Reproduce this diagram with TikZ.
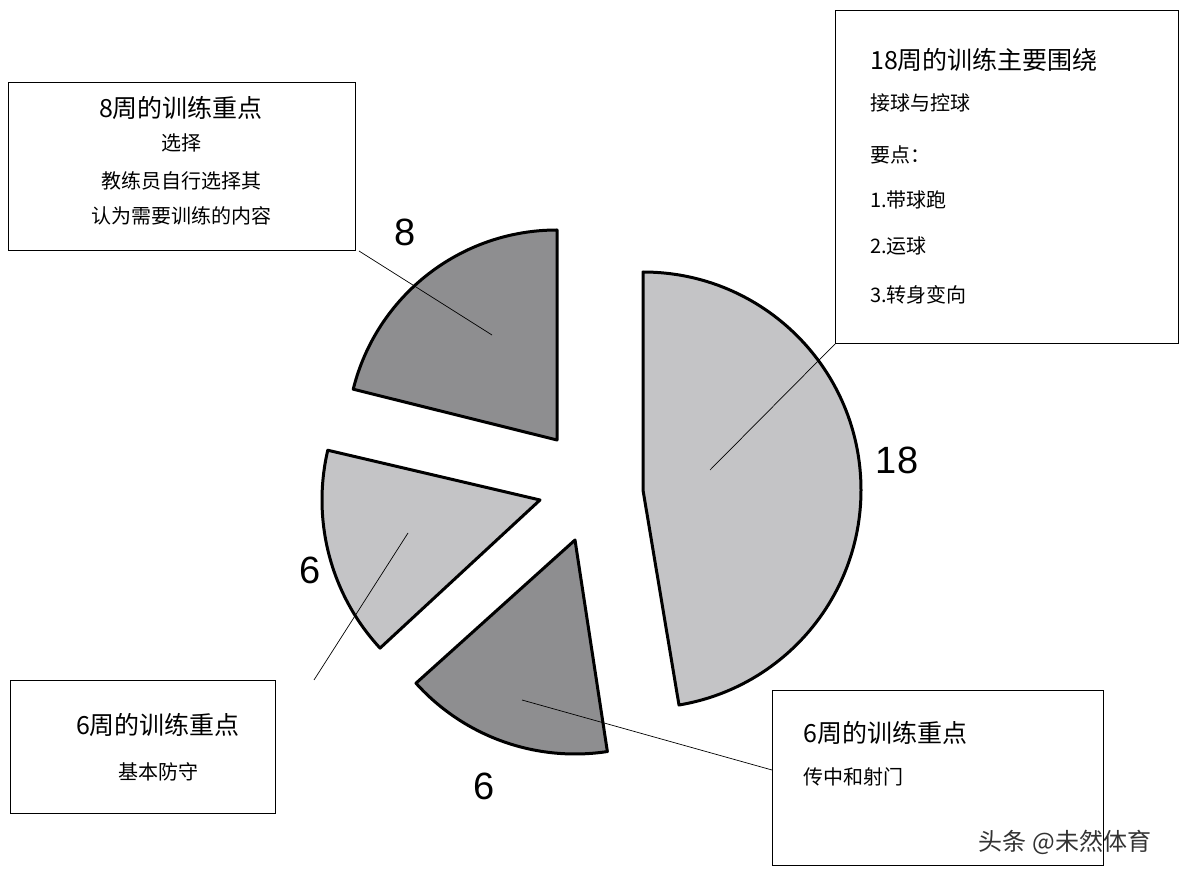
\documentclass[tikz,border=0pt]{standalone}
\usepackage{fontspec}
\setmainfont{Liberation Serif}
\newfontfamily\cjk{Noto Sans CJK SC}
\newfontfamily\numf{Liberation Sans}
\begin{document}
\begin{tikzpicture}[x=1pt,y=-1pt,
 slice/.style={draw=black,line width=3pt,line join=round},
 box/.style={draw=black,line width=1pt,fill=white},
 lead/.style={draw=black,line width=0.7pt},
 big/.style={font=\cjk\fontsize{25}{25}\selectfont,inner sep=0pt},
 small/.style={font=\cjk\fontsize{20}{20}\selectfont,inner sep=0pt},
 num/.style={font=\numf\fontsize{38}{38}\selectfont,inner sep=0pt}]
\useasboundingbox[fill=white] (0,0) rectangle (1200,882);
\definecolor{dk}{HTML}{8E8E90}\definecolor{lt}{HTML}{C4C4C6}
% slices (angles measured with y flipped: use negative angles)
\draw[slice,fill=lt] (643,490) -- ++(-90:218) arc[start angle=-90,end angle=80.5,radius=218] -- cycle;
\draw[slice,fill=dk] (557,440) -- ++(-90:210) arc[start angle=-90,end angle=-166,radius=210] -- cycle;
\draw[slice,fill=lt] (540,500) -- ++(-166.8:218) arc[start angle=-166.8,end angle=-222.8,radius=218] -- cycle;
\draw[slice,fill=dk] (575,540) -- ++(-222:214) arc[start angle=-222,end angle=-278.7,radius=214] -- cycle;
% boxes
\node[box,minimum width=347,minimum height=168,anchor=north west] (b8) at (8,82) {};
\node[box,minimum width=343,minimum height=333,anchor=north west] (b18) at (835,10) {};
\node[box,minimum width=265,minimum height=133,anchor=north west] (b6a) at (10,680) {};
\node[box,minimum width=331,minimum height=175,anchor=north west] (b6b) at (772,690) {};
% leader endpoints
\coordinate (p8) at (492,335);\coordinate (p18) at (710,470);
\coordinate (p6a) at (408,533);\coordinate (p6b) at (522,700);
\draw[lead] (b8.south east) ++(3,0) -- (p8);
\draw[lead] (b18.south west) -- (p18);
\draw[lead] (b6a.north east) ++(38,0) -- (p6a);
\draw[lead] (b6b.west) ++(0,-8) -- (p6b);
% texts
\node[big] (t1) at (181,108) {8周的训练重点};
\node[small] (t2) at (181,143) {选择};
\node[small] (t3) at (181,181) {教练员自行选择其};
\node[small] (t4) at (181,216) {认为需要训练的内容};
\node[big,anchor=west] (r1) at (870,60) {18周的训练主要围绕};
\node[small,anchor=west] (r2) at (870,103) {接球与控球};
\node[small,anchor=west] (r3) at (870,155) {要点：};
\node[small,anchor=west] (r4) at (870,200) {1.带球跑};
\node[small,anchor=west] (r5) at (870,246) {2.运球};
\node[small,anchor=west] (r6) at (870,295) {3.转身变向};
\node[big] (l1) at (158,725) {6周的训练重点};
\node[small] (l2) at (158,772) {基本防守};
\node[big,anchor=west] (m1) at (803,733) {6周的训练重点};
\node[small,anchor=west] (m2) at (803,777) {传中和射门};
\node[num] (n8) at (405,232) {8};
\node[num] (n18) at (897,460) {18};
\node[num] (n6a) at (310,570) {6};
\node[num] (n6b) at (484,786) {6};
\node[font=\cjk\fontsize{24}{24}\selectfont,text=black!80,inner sep=0pt] (wm) at (1065,842) {头条 @未然体育};
\end{tikzpicture}
\end{document}
